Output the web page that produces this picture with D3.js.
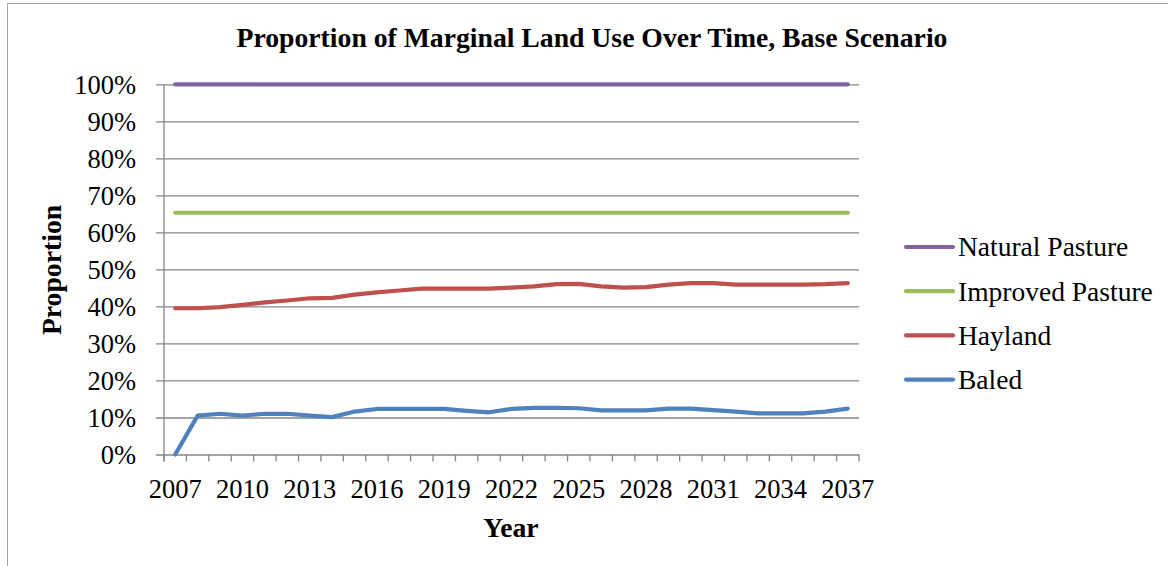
<!DOCTYPE html>
<html>
<head>
<meta charset="utf-8">
<script src="https://cdn.jsdelivr.net/npm/d3@7"></script>
<style>
  html, body { margin: 0; padding: 0; background: #fff; }
  svg { display: block; }
  svg text { font-family: "Liberation Serif", "Times New Roman", serif; }
</style>
</head>
<body>
<svg id="chart" width="1168" height="566"></svg>
<script>
// Years on the category axis
const years = d3.range(2007, 2038).map(String);
const yearLabels = years.filter((d, i) => i % 3 === 0);

// Proportion of marginal land by use, cumulative (stacked) shares
const naturalPasture = years.map(() => 1.0);
const improvedPasture = years.map(() => 0.653);
const hayland = [0.395, 0.395, 0.398, 0.404, 0.411, 0.416, 0.422, 0.423, 0.432, 0.438, 0.443, 0.448, 0.448, 0.448, 0.448, 0.451, 0.454, 0.460, 0.461, 0.454, 0.451, 0.452, 0.459, 0.463, 0.463, 0.459, 0.459, 0.459, 0.459, 0.460, 0.463];
const baled = [0.0, 0.105, 0.110, 0.105, 0.110, 0.110, 0.105, 0.101, 0.116, 0.123, 0.123, 0.123, 0.123, 0.118, 0.114, 0.123, 0.126, 0.126, 0.125, 0.119, 0.119, 0.119, 0.124, 0.124, 0.120, 0.116, 0.111, 0.111, 0.111, 0.116, 0.124];

const yTicks = d3.range(0, 1.0001, 0.1);

const seriesNames = ["Natural Pasture", "Improved Pasture", "Hayland", "Baled"];
const seriesValues = [naturalPasture, improvedPasture, hayland, baled];
const seriesColors = ["#8064A2", "#9BBB59", "#C0504D", "#4F81BD"];

const serif = '"Liberation Serif", "Times New Roman", serif';
const svg = d3.select("#chart");
const gridColor = "#868686";

// Chart frame
svg.append("rect")
  .attr("x", 7.5).attr("y", 3.5)
  .attr("width", 1180).attr("height", 600)
  .attr("fill", "#fff").attr("stroke", "#a6a6a6").attr("stroke-width", 1);

const plot = { left: 164, right: 859, top: 84.3, bottom: 454.5 };

const x = d3.scaleBand().domain(years).range([plot.left, plot.right]).padding(0);
const y = d3.scaleLinear().domain([0, 1]).range([plot.bottom, plot.top]);
const cx = d => x(d) + x.bandwidth() / 2;

// Horizontal gridlines and y ticks
const yAxis = d3.axisLeft(y)
  .tickValues(yTicks)
  .tickSize(-(plot.right - plot.left))
  .tickSizeOuter(0)
  .tickPadding(28)
  .tickFormat(d3.format(".0%"));

const yg = svg.append("g")
  .attr("transform", `translate(${plot.left},0)`)
  .call(yAxis);
yg.attr("font-family", null);
yg.select(".domain").remove();
yg.selectAll(".tick line")
  .attr("x1", -8)
  .attr("stroke", gridColor).attr("stroke-width", 1.3);
yg.selectAll(".tick text")
  .attr("font-size", 26.5).attr("fill", "#000")
  .style("font-family", serif)
  .attr("dy", "0.34em");

// Vertical axis line
svg.append("line")
  .attr("x1", plot.left).attr("x2", plot.left)
  .attr("y1", plot.top).attr("y2", plot.bottom + 7)
  .attr("stroke", gridColor).attr("stroke-width", 1.3);

// Category boundary ticks along the x axis
const boundaries = years.map(d => x(d)).concat([plot.right]);
svg.append("g").selectAll("line")
  .data(boundaries)
  .join("line")
  .attr("x1", d => d).attr("x2", d => d)
  .attr("y1", plot.bottom).attr("y2", plot.bottom + 7)
  .attr("stroke", gridColor).attr("stroke-width", 1.3);

// Year labels
const xAxis = d3.axisBottom(x)
  .tickValues(yearLabels)
  .tickSize(0)
  .tickPadding(25);
const xg = svg.append("g")
  .attr("transform", `translate(0,${plot.bottom})`)
  .call(xAxis);
xg.attr("font-family", null);
xg.select(".domain").remove();
xg.selectAll(".tick text")
  .attr("font-size", 26.5).attr("fill", "#000")
  .style("font-family", serif);

// Series lines
const line = d3.line()
  .x((d, i) => cx(years[i]))
  .y(d => y(d))
  .curve(d3.curveLinear);

svg.append("g").selectAll("path")
  .data(seriesValues)
  .join("path")
  .attr("d", d => line(d))
  .attr("fill", "none")
  .attr("stroke", (d, i) => seriesColors[i])
  .attr("stroke-width", 4.2)
  .attr("stroke-linejoin", "round")
  .attr("stroke-linecap", "round");

// Title
svg.append("text")
  .attr("x", 592).attr("y", 47)
  .attr("text-anchor", "middle")
  .attr("font-size", 27.7).attr("font-weight", "bold")
  .style("font-family", serif)
  .text("Proportion of Marginal Land Use Over Time, Base Scenario");

// Axis titles
svg.append("text")
  .attr("transform", "translate(61,270) rotate(-90)")
  .attr("text-anchor", "middle")
  .attr("font-size", 27.7).attr("font-weight", "bold")
  .style("font-family", serif)
  .text("Proportion");

svg.append("text")
  .attr("x", 511).attr("y", 537)
  .attr("text-anchor", "middle")
  .attr("font-size", 27.7).attr("font-weight", "bold")
  .style("font-family", serif)
  .text("Year");

// Legend
const legend = svg.append("g").selectAll("g")
  .data(seriesNames)
  .join("g")
  .attr("transform", (d, i) => `translate(906,${247 + i * 44.2})`);
legend.append("line")
  .attr("x1", 0).attr("x2", 47)
  .attr("stroke", (d, i) => seriesColors[i])
  .attr("stroke-width", 4.2)
  .attr("stroke-linecap", "round");
legend.append("text")
  .attr("x", 52).attr("dy", "0.34em")
  .attr("font-size", 27.5)
  .style("font-family", serif)
  .text(d => d);
</script>
</body>
</html>
